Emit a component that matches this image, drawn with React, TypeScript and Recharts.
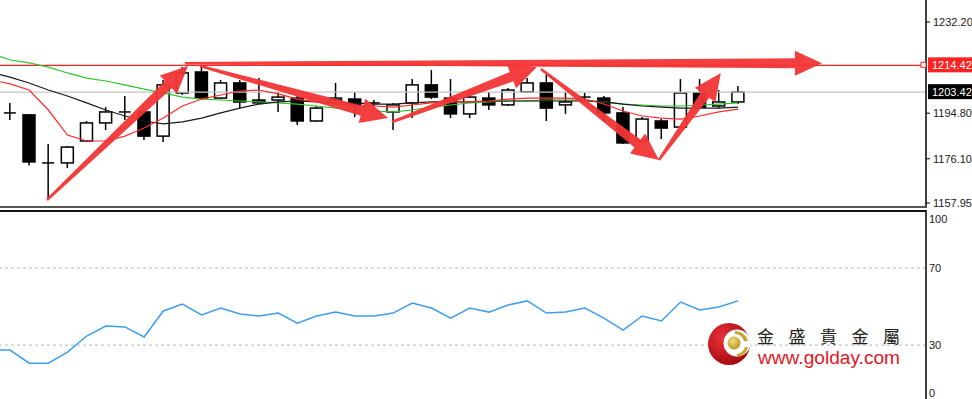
import { Bar, ComposedChart, Line, LineChart, ReferenceLine, XAxis, YAxis } from "recharts";

// first slot (bar -1) only carries indicator values, no candle
const opens = [null, 1194.9, 1194.1, 1174.4, 1174.4, 1183.4, 1190.8, 1195.3, 1195.3, 1185.4, 1203.1, 1211.7, 1201.0, 1207.2, 1200.2, 1200.2, 1201.0, 1191.6, 1200.2, 1200.6, 1199.0, 1195.3, 1199.0, 1206.4, 1201.0, 1194.5, 1201.0, 1198.2, 1203.5, 1207.2, 1198.2, 1201.4, 1201.0, 1194.9, 1183.4, 1191.6, 1189.1, 1203.1, 1197.75, 1199.4];
const highs = [null, 1199.0, 1194.5, 1182.2, 1181.3, 1191.6, 1197.3, 1201.85, 1196.5, 1208.4, 1213.7, 1214.6, 1208.4, 1208.4, 1209.2, 1203.5, 1201.85, 1197.75, 1207.2, 1203.5, 1200.2, 1199.0, 1208.8, 1212.5, 1208.8, 1201.85, 1203.5, 1205.1, 1209.2, 1210.5, 1203.5, 1203.1, 1201.85, 1197.3, 1193.2, 1192.4, 1208.8, 1208.8, 1204.3, 1205.95];
const lows = [null, 1192.0, 1173.3, 1160.0, 1172.3, 1183.0, 1187.9, 1192.0, 1183.8, 1183.0, 1202.3, 1200.2, 1200.6, 1196.9, 1198.6, 1195.3, 1189.95, 1191.2, 1199.8, 1193.2, 1197.75, 1187.9, 1192.8, 1200.6, 1192.8, 1192.8, 1196.1, 1197.75, 1203.1, 1191.6, 1194.5, 1200.2, 1191.2, 1182.2, 1182.6, 1184.2, 1188.7, 1196.5, 1196.9, 1198.6];
const closes = [null, 1194.9, 1174.8, 1174.4, 1180.9, 1190.8, 1195.3, 1195.3, 1185.4, 1206.4, 1211.3, 1201.0, 1207.2, 1199.4, 1199.0, 1201.4, 1191.6, 1196.9, 1201.0, 1198.2, 1199.0, 1198.2, 1206.4, 1201.4, 1194.5, 1201.4, 1198.2, 1204.3, 1207.2, 1196.9, 1199.4, 1201.4, 1194.9, 1182.6, 1192.4, 1188.7, 1203.1, 1197.3, 1199.4, 1203.42];

const maFast = [1208.5, 1206.8, 1204.3, 1196.1, 1185.85, 1183.4, 1183.4, 1185.4, 1188.7, 1192.8, 1197.75, 1200.6, 1202.25, 1203.9, 1204.3, 1202.7, 1200.6, 1199.4, 1198.55, 1198.15, 1197.75, 1197.3, 1198.15, 1199.0, 1199.4, 1199.4, 1199.8, 1200.6, 1201.0, 1201.0, 1201.0, 1200.6, 1198.55, 1195.7, 1193.65, 1192.8, 1192.4, 1193.65, 1195.3, 1196.5];
const maMid = [1211.5, 1209.6, 1207.2, 1204.3, 1201.85, 1199.0, 1196.1, 1193.65, 1191.6, 1190.4, 1191.2, 1192.8, 1194.9, 1196.9, 1198.55, 1199.4, 1199.8, 1199.4, 1199.0, 1199.0, 1198.55, 1198.55, 1199.0, 1199.4, 1199.4, 1199.4, 1199.8, 1199.8, 1199.8, 1199.8, 1199.8, 1199.8, 1199.4, 1198.55, 1197.75, 1197.3, 1196.9, 1196.9, 1196.9, 1197.3];
const maSlow = [1219.5, 1216.6, 1215.4, 1213.7, 1211.3, 1209.2, 1208.0, 1206.4, 1204.7, 1203.1, 1201.4, 1200.6, 1200.2, 1199.8, 1199.4, 1199.0, 1198.55, 1197.75, 1196.9, 1196.1, 1195.7, 1195.3, 1196.1, 1197.3, 1198.15, 1199.0, 1199.4, 1199.8, 1199.8, 1200.2, 1200.2, 1200.2, 1199.4, 1198.55, 1198.15, 1197.75, 1197.75, 1198.15, 1198.55, 1199.0];
const rsi = [27.4, 27.4, 20.6, 20.6, 26.4, 34.7, 39.9, 39.4, 34.2, 47.7, 51.3, 45.6, 49.2, 46.1, 45.1, 46.6, 41.4, 45.1, 47.1, 45.1, 45.1, 46.6, 51.8, 49.2, 44.0, 49.2, 47.1, 50.8, 52.9, 46.6, 47.1, 49.2, 44.0, 37.8, 45.1, 42.5, 52.3, 48.2, 49.7, 52.9];

const priceTicks = [1157.95, 1176.10, 1194.80, 1203.42, 1214.42, 1232.20];
const resistance = 1214.42;
const lastPrice = 1203.42;
const rsiTicks = [0, 30, 70, 100];

// hand-drawn arrows, [bar index, price]
const arrowTails = [[1.93, 1159.2], [9.13, 1215.3], [9.92, 1214.15], [19.94, 1191.2], [27.71, 1212.9], [33.87, 1175.6]];
const arrowTips = [[9.29, 1214.15], [42.38, 1215.3], [19.73, 1192.8], [27.5, 1213.7], [33.87, 1175.6], [37.1, 1211.3]];

const X_DOMAIN = [-0.522, 47.81];
const FONT = "'Liberation Sans', Arial, sans-serif";

const data = maFast.map((v, k) => ({
  i: k - 1,
  range: highs[k] == null ? null : [lows[k], highs[k]],
  open: opens[k], high: highs[k], low: lows[k], close: closes[k],
  fast: v, mid: maMid[k], slow: maSlow[k], rsi: rsi[k],
}));

function Candle(props: any) {
  const { x, y, width, height, payload } = props;
  if (payload.high == null || !height) return null;
  const { open, close, high, low } = payload;
  const k = Math.abs(height) / (high - low);
  const py = (v: number) => y + (high - v) * k;
  const cx = x + width / 2;
  const bw = 12;
  const top = py(Math.max(open, close));
  const bot = py(Math.min(open, close));
  const up = close > open;
  return (
    <g>
      <line x1={cx} x2={cx} y1={py(high)} y2={py(low)} stroke="#000" strokeWidth={1.5} />
      {bot - top < 1.5 ? (
        <line x1={cx - bw / 2} x2={cx + bw / 2} y1={top} y2={top} stroke="#000" strokeWidth={1.5} />
      ) : (
        <rect x={cx - bw / 2} y={top} width={bw} height={bot - top}
          fill={up ? "#fff" : "#000"} stroke="#000" strokeWidth={1.5} />
      )}
    </g>
  );
}

function Arrow(p: any) {
  const { x1, y1, x2, y2 } = p;
  const len = Math.hypot(x2 - x1, y2 - y1);
  if (!len) return null;
  const ux = (x2 - x1) / len, uy = (y2 - y1) / len;
  const nx = -uy, ny = ux;
  const head = 27, hw = 12.5, w0 = 2.5, w1 = 10;
  const bx = x2 - ux * head, by = y2 - uy * head;
  const pts = [
    [x1 + nx * w0 / 2, y1 + ny * w0 / 2],
    [bx + nx * w1 / 2, by + ny * w1 / 2],
    [bx + nx * hw, by + ny * hw],
    [x2, y2],
    [bx - nx * hw, by - ny * hw],
    [bx - nx * w1 / 2, by - ny * w1 / 2],
    [x1 - nx * w0 / 2, y1 - ny * w0 / 2],
  ];
  return <polygon points={pts.map((q) => q.join(",")).join(" ")} fill="#f23535" fillOpacity={0.95} />;
}

function PriceTick(props: any) {
  const { x, y, payload } = props;
  const v = payload.value;
  const label = v.toFixed(2);
  if (v === resistance || v === lastPrice) {
    const bg = v === resistance ? "#f22" : "#000";
    return (
      <g>
        {v === resistance && <rect x={x - 12} y={y - 3} width={5} height={5} fill="#fff" stroke="#f22" strokeWidth={1} />}
        <rect x={x - 5} y={y - 8} width={50} height={15} fill={bg} />
        <text x={x - 1} y={y} dy="0.35em" fontSize={11} fontFamily={FONT} fill="#fff">{label}</text>
      </g>
    );
  }
  return (
    <g>
      <line x1={x - 7} x2={x - 3} y1={y} y2={y} stroke="#000" />
      <text x={x} y={y} dy="0.35em" fontSize={11} fontFamily={FONT} fill="#1a1a1a">{label}</text>
    </g>
  );
}

function RsiTick(props: any) {
  const { x, y, payload } = props;
  const v = payload.value;
  const shift = v === 100 ? 9 : v === 0 ? -10 : 0;
  return (
    <text x={x} y={y + shift} dy="0.35em" fontSize={11} fontFamily={FONT} fill="#1a1a1a">{v}</text>
  );
}

function Logo() {
  return (
    <svg width={972} height={399} style={{ position: "absolute", left: 0, top: 0, pointerEvents: "none" }}>
      <defs>
        <radialGradient id="redball" cx="35%" cy="35%" r="70%">
          <stop offset="0%" stopColor="#e8323a" />
          <stop offset="100%" stopColor="#a3080f" />
        </radialGradient>
        <radialGradient id="goldball" cx="40%" cy="35%" r="70%">
          <stop offset="0%" stopColor="#f3dc7a" />
          <stop offset="100%" stopColor="#b89220" />
        </radialGradient>
      </defs>
      <circle cx={729} cy={344} r={21} fill="url(#redball)" />
      <circle cx={737} cy={343} r={13.5} fill="#fff" />
      <path d="M735 331 A13 13 0 0 1 748 341 L744 341 A10 10 0 0 0 735 334 Z" fill="#c9a22e" />
      <path d="M748 347 A13 13 0 0 1 737 357 L737 354 A10 10 0 0 0 745 347 Z" fill="#c9a22e" />
      <circle cx={734} cy={343} r={6.5} fill="url(#goldball)" />
      <text x={757} y={343} fontSize={17} fontFamily="'Noto Sans CJK TC', sans-serif" fill="#222"
        textLength={143} lengthAdjust="spacing">金盛貴金屬</text>
      <text x={758} y={364} fontSize={18} fontFamily={FONT} fill="#e3161e"
        textLength={142} lengthAdjust="spacingAndGlyphs">www.golday.com</text>
    </svg>
  );
}

export default function App() {
  return (
    <div style={{ position: "fixed", left: 0, top: 0, width: 972, height: 399, overflow: "hidden", background: "#fff" }}>
      <div style={{ position: "absolute", left: 0, top: 0 }}>
        <ComposedChart width={972} height={208} data={data} margin={{ top: 0, right: 0, bottom: 0, left: 0 }}>
          <XAxis dataKey="i" type="number" domain={X_DOMAIN} allowDataOverflow hide />
          <YAxis orientation="right" width={46} domain={[1155.91, 1241.22]} allowDataOverflow
            ticks={priceTicks} interval={0} tick={<PriceTick />} tickLine={false}
            tickSize={4} tickMargin={3} axisLine={{ stroke: "#000", strokeWidth: 1.5 }} />
          <ReferenceLine y={lastPrice} stroke="#c4c4c4" strokeWidth={1.2} />
          <ReferenceLine y={resistance} stroke="#ff2222" strokeWidth={1.2} />
          <Bar dataKey="range" shape={<Candle />} isAnimationActive={false} />
          <Line dataKey="slow" stroke="#2fc42f" strokeWidth={1.2} dot={false} isAnimationActive={false} />
          <Line dataKey="mid" stroke="#1a1a1a" strokeWidth={1.2} dot={false} isAnimationActive={false} />
          <Line dataKey="fast" stroke="#ff2a2a" strokeWidth={1.2} dot={false} isAnimationActive={false} />
          {arrowTails.map((t, k) => (
            <ReferenceLine key={k} ifOverflow="visible"
              segment={[{ x: t[0], y: t[1] }, { x: arrowTips[k][0], y: arrowTips[k][1] }]}
              shape={(p: any) => <Arrow {...p} />} />
          ))}
        </ComposedChart>
      </div>
      <div style={{ position: "absolute", left: 0, top: 206, width: 926, height: 2, background: "#555" }} />
      <div style={{ position: "absolute", left: 0, top: 210, width: 926, height: 2, background: "#111" }} />
      <div style={{ position: "absolute", left: 0, top: 210 }}>
        <LineChart width={972} height={193} data={data} margin={{ top: 0, right: 0, bottom: 0, left: 0 }}>
          <XAxis dataKey="i" type="number" domain={X_DOMAIN} allowDataOverflow hide />
          <YAxis orientation="right" width={46} domain={[0, 100]} ticks={rsiTicks} interval={0}
            tick={<RsiTick />} tickLine={false} tickSize={0} tickMargin={3}
            axisLine={{ stroke: "#000", strokeWidth: 1.5 }} />
          <ReferenceLine y={70} stroke="#b5b5b5" strokeDasharray="3 3" />
          <ReferenceLine y={30} stroke="#b5b5b5" strokeDasharray="3 3" />
          <Line dataKey="rsi" stroke="#3d9df0" strokeWidth={1.5} dot={false} isAnimationActive={false} />
        </LineChart>
      </div>
      <Logo />
    </div>
  );
}
